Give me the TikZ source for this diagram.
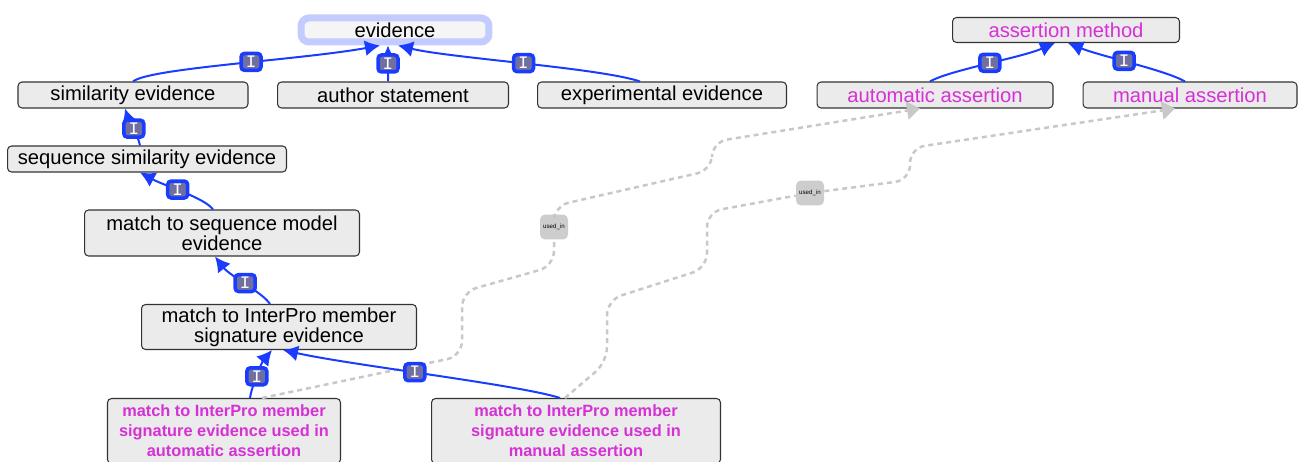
\documentclass[tikz,border=0pt]{standalone}
\usepackage{fontspec}
\setmainfont{Liberation Sans}
\setmonofont{Liberation Mono}
\usetikzlibrary{arrows.meta}
\definecolor{isablue}{RGB}{25,60,255}
\definecolor{selblue}{RGB}{195,203,255}
\definecolor{boxgray}{RGB}{235,235,235}
\definecolor{termpink}{RGB}{214,48,214}
\definecolor{badgefill}{RGB}{112,112,160}
\definecolor{dashgray}{RGB}{200,200,200}
\definecolor{usedgray}{RGB}{205,205,205}
\begin{document}
\begin{tikzpicture}[x=0.02cm,y=-0.02cm,
  term/.style={draw=black!80, fill=boxgray, rounded corners=0.08cm, line width=0.6pt, inner sep=0pt, minimum height=0.52cm, align=center, font=\fontsize{11.5}{11.4}\selectfont},
  pinkterm/.style={term, text=termpink},
  usedterm/.style={pinkterm, minimum height=1.3cm, font=\fontsize{9.3}{11.4}\selectfont\bfseries},
  isa/.style={draw=isablue, line width=0.04cm, -{Latex[length=0.3cm,width=0.32cm]}},
  badge/.style={draw=isablue, fill=badgefill, line width=0.07cm, rounded corners=0.07cm, minimum width=0.4cm, minimum height=0.34cm, inner sep=0pt, text=white, font=\fontsize{10}{10}\selectfont\ttfamily},
  usedin/.style={draw=dashgray, line width=0.05cm, dash pattern=on 0.1cm off 0.08cm, rounded corners=0.3cm},
  usedtip/.style={-{Triangle[length=0.26cm,width=0.36cm,color=dashgray]}},
  usednode/.style={fill=usedgray, rounded corners=0.1cm, minimum width=0.56cm, minimum height=0.5cm, inner sep=0pt, font=\fontsize{3.5}{4}\selectfont}]
\useasboundingbox (0,0) rectangle (1300,462);
% evidence branch
\node[term, draw=selblue, line width=0.14cm, fill=gray!8, rounded corners=0.16cm, minimum width=3.76cm, minimum height=0.48cm] (ev) at (395,30) {evidence};
\node[term, minimum width=4.6cm] (sim) at (133,95) {similarity evidence};
\node[term, minimum width=4.62cm] (auth) at (393,95) {author statement};
\node[term, minimum width=4.98cm] (expt) at (662,95) {experimental evidence};
\node[term, minimum width=5.58cm] (seqsim) at (147,159) {sequence similarity evidence};
\node[term, minimum width=5.5cm, minimum height=0.92cm] (seqmod) at (222,233) {match to sequence model\\evidence};
\node[term, minimum width=5.5cm, minimum height=0.9cm] (ipr) at (279,327) {match to InterPro member\\signature evidence};
\node[usedterm, minimum width=4.66cm] (ipra) at (224,431) {match to InterPro member\\signature evidence used in\\automatic assertion};
\node[usedterm, minimum width=5.78cm] (iprm) at (576,431) {match to InterPro member\\signature evidence used in\\manual assertion};
% assertion branch
\node[pinkterm, minimum width=4.54cm, minimum height=0.5cm] (am) at (1066,30) {assertion method};
\node[pinkterm, minimum width=4.72cm] (auto) at (935,95) {automatic assertion};
\node[pinkterm, minimum width=4.28cm] (man) at (1190,95) {manual assertion};
\node[usednode] (u1) at (554,227) {used\_in};
\node[usednode] (u2) at (810,193) {used\_in};
% used_in links
\draw[usedin] ([xshift=0.76cm]ipra.north) -- (462,356) -- (462,292) -- (554,266) -- (u1);
\draw[usedin, usedtip] (u1) -- (554,206) -- (712,170) -- (712,142) -- ([xshift=-0.3cm]auto.south);
\draw[usedin] ([xshift=-0.22cm]iprm.north) -- (607,362) -- (607,300) -- (707,268) -- (707,212) -- (u2);
\draw[usedin, usedtip] (u2) -- (910,180) -- (910,148) -- ([xshift=-0.3cm]man.south);
% is_a links
\draw[isa] (sim.north) .. controls (150,68) and (300,60) .. ([xshift=-0.3cm]ev.south) node[badge, pos=0.56] (b1) {I};
\draw[isa] ([xshift=-0.1cm]auth.north) -- ([xshift=-0.14cm]ev.south) node[badge, pos=0.5] (b2) {I};
\draw[isa] ([xshift=-0.44cm]expt.north) .. controls (600,68) and (450,58) .. ([xshift=0.06cm]ev.south) node[badge, pos=0.5] (b3) {I};
\draw[isa] ([xshift=-0.14cm]seqsim.north) .. controls (138,135) and (128,118) .. ([xshift=-0.16cm]sim.south) node[badge, pos=0.45] (b4) {I};
\draw[isa] ([xshift=-0.18cm]seqmod.north) .. controls (205,198) and (165,186) .. ([xshift=-0.14cm]seqsim.south) node[badge, pos=0.56] (b5) {I};
\draw[isa] ([xshift=-0.18cm]ipr.north) .. controls (262,292) and (230,276) .. ([xshift=-0.14cm]seqmod.south) node[badge, pos=0.5] (b6) {I};
\draw[isa] ([xshift=0.52cm]ipra.north) .. controls (252,385) and (262,362) .. ([xshift=-0.14cm]ipr.south) node[badge, pos=0.45] (b7) {I};
\draw[isa] ([xshift=-0.32cm]iprm.north) .. controls (520,385) and (350,365) .. ([xshift=0.08cm]ipr.south) node[badge, pos=0.55] (b8) {I};
\draw[isa] ([xshift=-0.1cm]auto.north) .. controls (950,70) and (1020,58) .. ([xshift=-0.22cm]am.south) node[badge, pos=0.52] (b9) {I};
\draw[isa] ([xshift=-0.1cm]man.north) .. controls (1165,70) and (1100,56) .. ([xshift=0.04cm]am.south) node[badge, pos=0.55] (b10) {I};
\end{tikzpicture}
\end{document}
